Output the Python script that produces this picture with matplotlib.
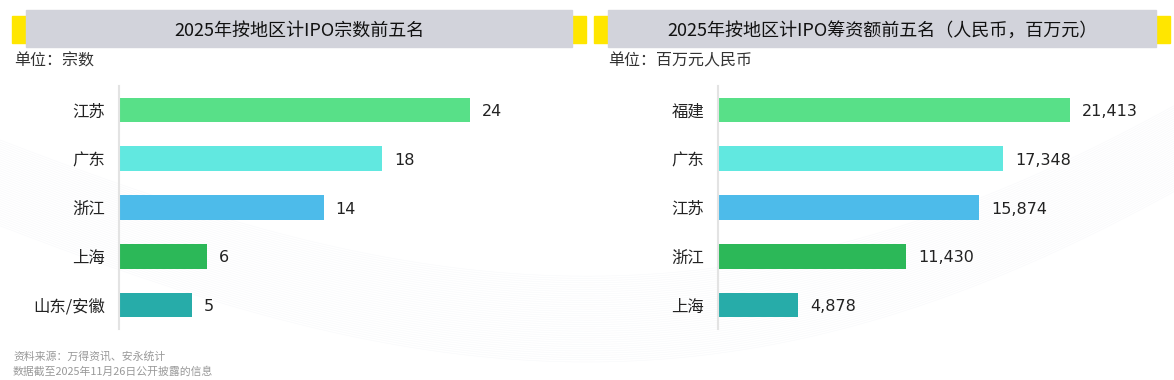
import numpy as np
import matplotlib
matplotlib.use('Agg')
import matplotlib.pyplot as plt
from matplotlib.patches import Rectangle

plt.rcParams['font.family'] = ['Noto Sans CJK SC', 'DejaVu Sans']

# 数据
left_title = '2025年按地区计IPO宗数前五名'
left_unit = '单位：宗数'
left_regions = ['江苏', '广东', '浙江', '上海', '山东/安徽']
left_values = [24, 18, 14, 6, 5]

right_title = '2025年按地区计IPO筹资额前五名（人民币，百万元）'
right_unit = '单位：百万元人民币'
right_regions = ['福建', '广东', '江苏', '浙江', '上海']
right_values = [21413, 17348, 15874, 11430, 4878]

bar_colors = ['#58E088', '#61E8E0', '#4DBBEA', '#2CB858', '#27ACA9']
notes = ['资料来源：万得资讯、安永统计', '数据截至2025年11月26日公开披露的信息']

W, H = 1174, 380
fig = plt.figure(figsize=(W / 100, H / 100), dpi=100)
fig.patch.set_facecolor('white')

# 背景淡色曲线
bg = fig.add_axes([0, 0, 1, 1], zorder=-5)
bg.set_xlim(0, W)
bg.set_ylim(H, 0)
bg.axis('off')
xs = np.linspace(0, W, 300)
for k in range(40):
    off = k * 2.2
    ys = 140 + off + 180 * np.sin(np.pi * xs / (W * 1.25)) - 140 * (xs / W) ** 2
    bg.plot(xs, ys, color='#DDE0EA', lw=0.4, alpha=0.22)

# 标题框
def header(x0, x1, text):
    bg.add_patch(Rectangle((x0 - 14, 16), x1 - x0 + 28, 27, color='#FFE600', zorder=1))
    bg.add_patch(Rectangle((x0, 10), x1 - x0, 37, color='#D2D3DB', zorder=2))
    bg.text((x0 + x1) / 2, 31, text, ha='center', va='center', fontsize=13,
            color='#111111', zorder=3)

header(26, 572, left_title)
header(608, 1156, right_title)
bg.text(14, 61, left_unit, ha='left', va='center', fontsize=11.5, color='#333333')
bg.text(608, 61, right_unit, ha='left', va='center', fontsize=11.5, color='#333333')
bg.text(13, 357, notes[0], ha='left', va='center', fontsize=7.8, color='#999999')
bg.text(13, 371, notes[1], ha='left', va='center', fontsize=7.8, color='#999999')


def panel(rect, regions, values, xmax, fmt, pad):
    ax = fig.add_axes(rect)
    ax.patch.set_alpha(0)
    y = np.arange(len(regions))
    ax.barh(y, values, height=0.51, color=bar_colors, zorder=2)
    ax.set_ylim(len(regions) - 0.5, -0.5)
    ax.set_xlim(0, xmax)
    ax.set_yticks(y)
    ax.set_yticklabels(regions, fontsize=11.8, color='#222222')
    ax.tick_params(axis='y', length=0, pad=10)
    ax.set_xticks([])
    for s in ['top', 'right', 'bottom']:
        ax.spines[s].set_visible(False)
    ax.spines['left'].set_color('#E3E3E3')
    ax.spines['left'].set_linewidth(1.5)
    for yi, v in zip(y, values):
        ax.text(v + pad, yi, fmt(v), ha='left', va='center_baseline', fontsize=11.5,
                color='#222222', family='DejaVu Sans')
    return ax

bottom = 1 - 329.4 / H
height = (329.4 - 85.6) / H
panel([119 / W, bottom, 461 / W, height], left_regions, left_values,
      461 / 14.63, lambda v: f'{v}', 0.8)
panel([718 / W, bottom, 447 / W, height], right_regions, right_values,
      447 / 0.01644, lambda v: f'{v:,}', 750)

fig.savefig('out.png', dpi=100)
